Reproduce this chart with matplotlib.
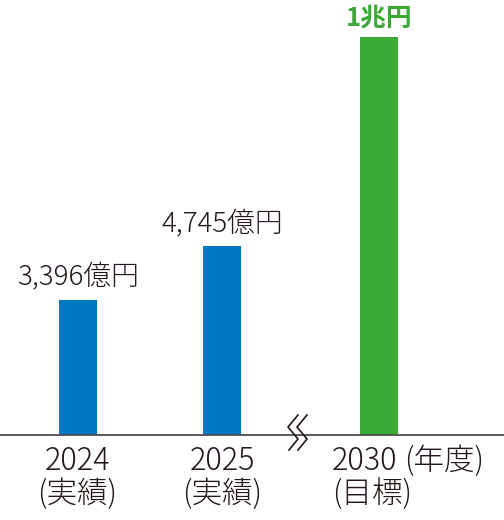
import matplotlib
matplotlib.use("Agg")
import matplotlib.pyplot as plt
from matplotlib.lines import Line2D

plt.rcParams['font.family'] = ['Noto Sans CJK JP', 'DejaVu Sans']

years = ["2024", "2025", "2030"]
sublabels = ["(実績)", "(実績)", "(目標)"]
unit_label = "(年度)"
values = [3396, 4745, 10000]
value_labels = ["3,396億円", "4,745億円", "1兆円"]
colors = ["#0079c2", "#0079c2", "#3aaa35"]

W, H = 504, 520
fig = plt.figure(figsize=(W / 100, H / 100), dpi=100)
base_px = 85  # baseline from bottom
ax = fig.add_axes([0, base_px / H, 1, 1 - base_px / H])
unit = 144.0
xpos = [0, 1, (379 - 78) / unit]
ax.set_xlim(-78 / unit, (W - 78) / unit)
ax.set_ylim(0, 10000 * (H - base_px) / 398)
ax.axis('off')

ax.bar(xpos, values, width=38 / unit, color=colors, zorder=2)

txt = "#231815"
for i, (x, v, lab) in enumerate(zip(xpos, values, value_labels)):
    if i == 2:
        ax.annotate(lab, (x, v), xytext=(0, 4), textcoords='offset points',
                    ha='center', va='bottom', fontsize=18.5, fontweight='bold',
                    color=colors[2])
    else:
        ax.annotate(lab, (x, v), xytext=(0, 6), textcoords='offset points',
                    ha='center', va='bottom', fontsize=20, fontweight='light', color=txt)

# baseline
fig.add_artist(Line2D([0, 1], [base_px / H, base_px / H], transform=fig.transFigure,
                      color="#4d4d4d", lw=1.3, zorder=3))

# break mark
def px(x, y):
    return x / W, 1 - y / H
for dx in (0, 9):
    pts = [(298 + dx, 415), (288 + dx, 427), (298 + dx, 439), (289 + dx, 450)]
    xs = [px(*p)[0] for p in pts]
    ys = [px(*p)[1] for p in pts]
    fig.add_artist(Line2D(xs, ys, transform=fig.transFigure, color="#231815", lw=1.2, zorder=4))

# x labels
fs = 22
centers_px = [77, 222]
for cx, y, s in zip(centers_px, years[:2], sublabels[:2]):
    fig.text(cx / W, 1 - 461 / H, y, ha='center', va='center', fontsize=fs, fontweight='light', color=txt)
    fig.text(cx / W, 1 - 494 / H, s, ha='center', va='center', fontsize=fs, fontweight='light', color=txt)
fig.text(332 / W, 1 - 461 / H, years[2], ha='left', va='center', fontsize=fs, fontweight='light', color=txt)
fig.text(404 / W, 1 - 461 / H, unit_label, ha='left', va='center', fontsize=fs, fontweight='light', color=txt)
fig.text(332 / W, 1 - 494 / H, sublabels[2], ha='left', va='center', fontsize=fs, fontweight='light', color=txt)

fig.savefig("out.png", dpi=100)
